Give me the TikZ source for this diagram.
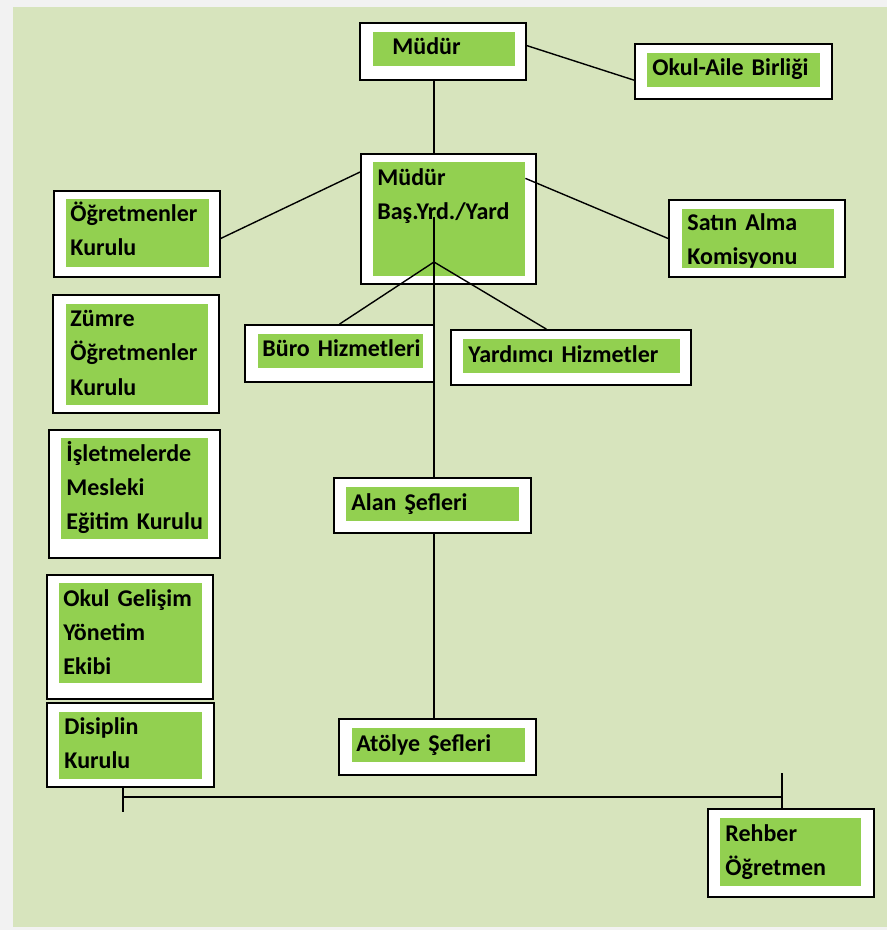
\documentclass[tikz,border=0pt]{standalone}
\usepackage{fontspec}
\setmainfont{Carlito}
\usetikzlibrary{fit}
\definecolor{PageClr}{rgb}{0.949,0.949,0.949}
\definecolor{BackClr}{rgb}{0.843,0.894,0.741}
\definecolor{FillClr}{rgb}{0.573,0.816,0.314}

\begin{document}
\begin{tikzpicture}[x=0.5pt,y=-0.5pt,
  outerbox/.style={draw=black,line width=0.9pt,fill=white,inner sep=0pt},
  innerbox/.style={fill=FillClr,inner sep=0pt},
  boxtext/.style={anchor=base west,inner sep=0pt,align=left,text width=110pt,
    font=\bfseries\fontsize{12}{17}\selectfont},
  link/.style={line width=0.7pt,color=black}]

\useasboundingbox (0,0) rectangle (887,930);
\fill[PageClr] (0,0) rectangle (887,930);
\fill[BackClr] (13,7) rectangle (887,927);

\node[outerbox,fit={(360,23)(526,80)}] (mudur) {};
\node[innerbox,fit={(373,32)(515,66)}] (mudurF) {};
\node[boxtext] (mudurT) at (392,55) {Müdür};

\node[outerbox,fit={(635,44)(832,99)}] (veli) {};
\node[innerbox,fit={(647,53)(820,87)}] (veliF) {};
\node[boxtext] (veliT) at (652,76) {Okul-Aile Birliği};

\node[outerbox,fit={(361,154)(536,284)}] (yrd) {};
\node[innerbox,fit={(373,162)(525,276)}] (yrdF) {};
\node[boxtext] (yrdT) at (377,186) {Müdür\\Baş.Yrd./Yard};

\node[outerbox,fit={(669,200)(845,277)}] (satin) {};
\node[innerbox,fit={(682,209)(834,268)}] (satinF) {};
\node[boxtext] (satinT) at (687,231) {Satın Alma\\Komisyonu};

\node[outerbox,fit={(54,191)(220,277)}] (ogrkur) {};
\node[innerbox,fit={(66,199)(209,267)}] (ogrkurF) {};
\node[boxtext] (ogrkurT) at (70,222) {Öğretmenler\\Kurulu};

\node[outerbox,fit={(53,295)(219,413)}] (zumre) {};
\node[innerbox,fit={(66,304)(208,405)}] (zumreF) {};
\node[boxtext] (zumreT) at (70,327) {Zümre\\Öğretmenler\\Kurulu};

\node[outerbox,fit={(49,430)(220,558)}] (isl) {};
\node[innerbox,fit={(61,438)(208,539)}] (islF) {};
\node[boxtext] (islT) at (66,461) {İşletmelerde\\Mesleki\\Eğitim Kurulu};

\node[outerbox,fit={(47,575)(213,699)}] (ogye) {};
\node[innerbox,fit={(59,583)(202,683)}] (ogyeF) {};
\node[boxtext] (ogyeT) at (63,606) {Okul Gelişim\\Yönetim\\Ekibi};

\node[outerbox,fit={(47,703)(214,787)}] (disiplin) {};
\node[innerbox,fit={(59,712)(202,779)}] (disiplinF) {};
\node[boxtext] (disiplinT) at (64,734) {Disiplin\\Kurulu};

\node[outerbox,fit={(245,325)(434,382)}] (buro) {};
\node[innerbox,fit={(258,334)(423,368)}] (buroF) {};
\node[boxtext] (buroT) at (262,356) {Büro Hizmetleri};

\node[outerbox,fit={(451,330)(691,385)}] (yard) {};
\node[innerbox,fit={(463,339)(680,373)}] (yardF) {};
\node[boxtext] (yardT) at (468,362) {Yardımcı Hizmetler};

\node[outerbox,fit={(334,478)(531,533)}] (alan) {};
\node[innerbox,fit={(346,487)(519,521)}] (alanF) {};
\node[boxtext] (alanT) at (351,510) {Alan Şefleri};

\node[outerbox,fit={(339,719)(536,775)}] (atolye) {};
\node[innerbox,fit={(352,728)(525,762)}] (atolyeF) {};
\node[boxtext] (atolyeT) at (356,751) {Atölye Şefleri};

\node[outerbox,fit={(708,809)(874,897)}] (rehber) {};
\node[innerbox,fit={(720,818)(861,886)}] (rehberF) {};
\node[boxtext] (rehberT) at (725,841) {Rehber\\Öğretmen};

\coordinate (axis) at (434,0);
\coordinate (spinetop) at (434,217);
\coordinate (fan) at (434,262);
\coordinate (bl) at (123,797);
\coordinate (br) at (782,797);

\draw[link] (mudur.south -| axis) -- (yrd.north -| axis);
\draw[link] (mudur.4) -- (veli.185);
\draw[link] (yrd.152) -- (ogrkur.-3);
\draw[link] (yrdF.28) -- (satin.west);
\draw[link] (spinetop) -- (alan.north -| axis);
\draw[link] (fan) -- (buro.north);
\draw[link] (fan) -- (yard.131);
\draw[link] (alan.south -| axis) -- (atolye.north -| axis);

\draw[link] (disiplin.south -| bl) -- (bl) -- +(0,15);
\draw[link] (bl) -- (br);
\draw[link] (br) ++(0,-24) -- (rehber.north -| br);

\end{tikzpicture}
\end{document}
